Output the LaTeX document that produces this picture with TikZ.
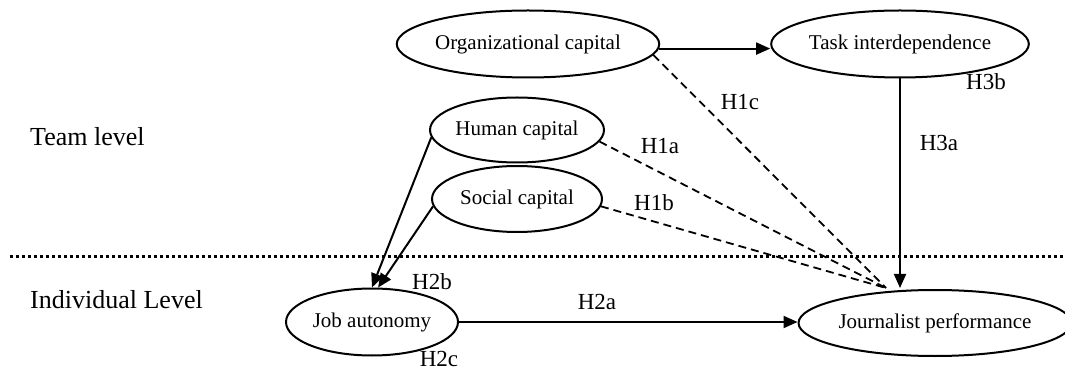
\documentclass[tikz,border=0pt]{standalone}
\usepackage{fontspec}
\setmainfont{Liberation Serif}
\usetikzlibrary{shapes.geometric,arrows.meta}
\begin{document}
\begin{tikzpicture}[x=1pt,y=-1pt,
  ell/.style={ellipse,draw,line width=2pt,inner sep=0pt,font=\fontsize{21}{25}\selectfont},
  lab/.style={font=\fontsize{23}{27}\selectfont,inner sep=0pt},
  lvl/.style={font=\fontsize{26}{30}\selectfont,inner sep=0pt,anchor=west},
  arr/.style={line width=2pt,-{Triangle[length=14pt,width=12pt]}},
  dsh/.style={line width=1.8pt,dash pattern=on 8pt off 5pt}]
\useasboundingbox (0,0) rectangle (1065,371);
\node[ell,minimum width=224pt,minimum height=67pt] (org) at (528,44) {Organizational capital};
\node[ell,minimum width=220pt,minimum height=67pt] (task) at (900,44) {Task interdependence};
\node[ell,minimum width=170pt,minimum height=65pt] (hum) at (517,130) {Human capital};
\node[ell,minimum width=170pt,minimum height=66pt] (soc) at (517,199) {Social capital};
\node[ell,minimum width=172pt,minimum height=67pt] (job) at (372,322) {Job autonomy};
\node[ell,minimum width=254pt,minimum height=66pt] (jp) at (935,323) {Journalist performance};
\coordinate (jpin) at (886,288);
\coordinate (dl) at (10,257);
\coordinate (dr) at (1065,257);
\draw[line width=3pt,dash pattern=on 3pt off 3pt] (dl) -- (dr);
\node[lvl] (team) at (30,137) {Team level};
\node[lvl] (indiv) at (30,300) {Individual Level};
\draw[arr] (org.-2) -- (org.-2 -| task.west);
\draw[arr] (task.south) -- (task.south |- jpin);
\draw[dsh] (org.-5) -- (jpin);
\draw[dsh] (hum.-8) -- (jpin);
\draw[dsh] (soc.-5) -- (jpin);
\draw[arr] (hum.185) -- (job.north);
\draw[arr] (soc.185) -- (job.80);
\draw[arr] (job.east) -- (job.east -| jp.west);
\node[lab] (h1c) at (740,102) {H1c};
\node[lab] (h1a) at (660,146) {H1a};
\node[lab] (h1b) at (654,203) {H1b};
\node[lab] (h3b) at (986,82) {H3b};
\node[lab] (h3a) at (939,143) {H3a};
\node[lab] (h2b) at (432,282) {H2b};
\node[lab] (h2a) at (597,302) {H2a};
\node[lab] (h2c) at (439,359) {H2c};
\end{tikzpicture}
\end{document}
